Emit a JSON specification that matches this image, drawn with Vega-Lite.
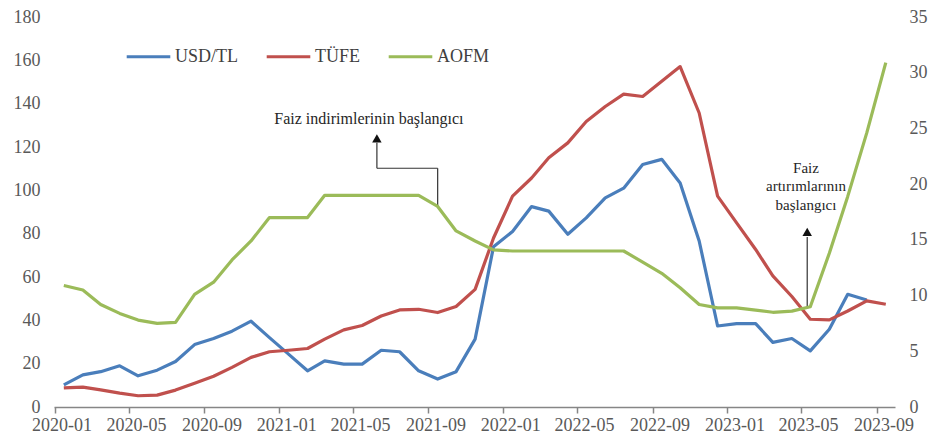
{
  "$schema": "https://vega.github.io/schema/vega-lite/v6.json",
  "width": 841,
  "height": 390,
  "autosize": {"type": "none"},
  "padding": {"left": 54, "top": 17, "right": 50, "bottom": 36},
  "background": "white",
  "config": {
    "view": {"stroke": null},
    "font": "Liberation Serif",
    "axis": {"labelFont": "Liberation Serif", "labelFontSize": 18, "labelColor": "#595959", "grid": false, "title": null}
  },
  "datasets": {
    "series": [
      {"date": "2020-01-01", "series": "USD/TL", "value": 10.2},
      {"date": "2020-02-01", "series": "USD/TL", "value": 14.8},
      {"date": "2020-03-01", "series": "USD/TL", "value": 16.3},
      {"date": "2020-04-01", "series": "USD/TL", "value": 19},
      {"date": "2020-05-01", "series": "USD/TL", "value": 14.4},
      {"date": "2020-06-01", "series": "USD/TL", "value": 17},
      {"date": "2020-07-01", "series": "USD/TL", "value": 21},
      {"date": "2020-08-01", "series": "USD/TL", "value": 28.8},
      {"date": "2020-09-01", "series": "USD/TL", "value": 31.6},
      {"date": "2020-10-01", "series": "USD/TL", "value": 35},
      {"date": "2020-11-01", "series": "USD/TL", "value": 39.6},
      {"date": "2020-12-01", "series": "USD/TL", "value": 32},
      {"date": "2021-01-01", "series": "USD/TL", "value": 24.4},
      {"date": "2021-02-01", "series": "USD/TL", "value": 16.7},
      {"date": "2021-03-01", "series": "USD/TL", "value": 21.3},
      {"date": "2021-04-01", "series": "USD/TL", "value": 19.8},
      {"date": "2021-05-01", "series": "USD/TL", "value": 19.8},
      {"date": "2021-06-01", "series": "USD/TL", "value": 26.2},
      {"date": "2021-07-01", "series": "USD/TL", "value": 25.5},
      {"date": "2021-08-01", "series": "USD/TL", "value": 16.7},
      {"date": "2021-09-01", "series": "USD/TL", "value": 12.9},
      {"date": "2021-10-01", "series": "USD/TL", "value": 16.3},
      {"date": "2021-11-01", "series": "USD/TL", "value": 31.3},
      {"date": "2021-12-01", "series": "USD/TL", "value": 74},
      {"date": "2022-01-01", "series": "USD/TL", "value": 81},
      {"date": "2022-02-01", "series": "USD/TL", "value": 92.5},
      {"date": "2022-03-01", "series": "USD/TL", "value": 90.4},
      {"date": "2022-04-01", "series": "USD/TL", "value": 79.7},
      {"date": "2022-05-01", "series": "USD/TL", "value": 87.3},
      {"date": "2022-06-01", "series": "USD/TL", "value": 96.5},
      {"date": "2022-07-01", "series": "USD/TL", "value": 101},
      {"date": "2022-08-01", "series": "USD/TL", "value": 111.9},
      {"date": "2022-09-01", "series": "USD/TL", "value": 114.3},
      {"date": "2022-10-01", "series": "USD/TL", "value": 103.4},
      {"date": "2022-11-01", "series": "USD/TL", "value": 76.6},
      {"date": "2022-12-01", "series": "USD/TL", "value": 37.4},
      {"date": "2023-01-01", "series": "USD/TL", "value": 38.5},
      {"date": "2023-02-01", "series": "USD/TL", "value": 38.5},
      {"date": "2023-03-01", "series": "USD/TL", "value": 29.8},
      {"date": "2023-04-01", "series": "USD/TL", "value": 31.6},
      {"date": "2023-05-01", "series": "USD/TL", "value": 25.9},
      {"date": "2023-06-01", "series": "USD/TL", "value": 35.9},
      {"date": "2023-07-01", "series": "USD/TL", "value": 52},
      {"date": "2023-08-01", "series": "USD/TL", "value": 49.4},
      {"date": "2020-01-01", "series": "TÜFE", "value": 8.8},
      {"date": "2020-02-01", "series": "TÜFE", "value": 9.2},
      {"date": "2020-03-01", "series": "TÜFE", "value": 7.9},
      {"date": "2020-04-01", "series": "TÜFE", "value": 6.4},
      {"date": "2020-05-01", "series": "TÜFE", "value": 5.2},
      {"date": "2020-06-01", "series": "TÜFE", "value": 5.5},
      {"date": "2020-07-01", "series": "TÜFE", "value": 7.8},
      {"date": "2020-08-01", "series": "TÜFE", "value": 11},
      {"date": "2020-09-01", "series": "TÜFE", "value": 14.2},
      {"date": "2020-10-01", "series": "TÜFE", "value": 18.3},
      {"date": "2020-11-01", "series": "TÜFE", "value": 22.9},
      {"date": "2020-12-01", "series": "TÜFE", "value": 25.5},
      {"date": "2021-01-01", "series": "TÜFE", "value": 26.2},
      {"date": "2021-02-01", "series": "TÜFE", "value": 27},
      {"date": "2021-03-01", "series": "TÜFE", "value": 31.3},
      {"date": "2021-04-01", "series": "TÜFE", "value": 35.6},
      {"date": "2021-05-01", "series": "TÜFE", "value": 37.6},
      {"date": "2021-06-01", "series": "TÜFE", "value": 42},
      {"date": "2021-07-01", "series": "TÜFE", "value": 44.8},
      {"date": "2021-08-01", "series": "TÜFE", "value": 45.1},
      {"date": "2021-09-01", "series": "TÜFE", "value": 43.6},
      {"date": "2021-10-01", "series": "TÜFE", "value": 46.4},
      {"date": "2021-11-01", "series": "TÜFE", "value": 54.3},
      {"date": "2021-12-01", "series": "TÜFE", "value": 78},
      {"date": "2022-01-01", "series": "TÜFE", "value": 97.3},
      {"date": "2022-02-01", "series": "TÜFE", "value": 105.7},
      {"date": "2022-03-01", "series": "TÜFE", "value": 115},
      {"date": "2022-04-01", "series": "TÜFE", "value": 121.9},
      {"date": "2022-05-01", "series": "TÜFE", "value": 131.8},
      {"date": "2022-06-01", "series": "TÜFE", "value": 138.7},
      {"date": "2022-07-01", "series": "TÜFE", "value": 144.4},
      {"date": "2022-08-01", "series": "TÜFE", "value": 143.3},
      {"date": "2022-09-01", "series": "TÜFE", "value": 150.3},
      {"date": "2022-10-01", "series": "TÜFE", "value": 157.1},
      {"date": "2022-11-01", "series": "TÜFE", "value": 135.7},
      {"date": "2022-12-01", "series": "TÜFE", "value": 97.3},
      {"date": "2023-01-01", "series": "TÜFE", "value": 85},
      {"date": "2023-02-01", "series": "TÜFE", "value": 72.7},
      {"date": "2023-03-01", "series": "TÜFE", "value": 60.5},
      {"date": "2023-04-01", "series": "TÜFE", "value": 51},
      {"date": "2023-05-01", "series": "TÜFE", "value": 40.5},
      {"date": "2023-06-01", "series": "TÜFE", "value": 40.2},
      {"date": "2023-07-01", "series": "TÜFE", "value": 44.3},
      {"date": "2023-08-01", "series": "TÜFE", "value": 49},
      {"date": "2023-09-01", "series": "TÜFE", "value": 47.4},
      {"date": "2020-01-01", "series": "AOFM", "value": 10.9},
      {"date": "2020-02-01", "series": "AOFM", "value": 10.5},
      {"date": "2020-03-01", "series": "AOFM", "value": 9.2},
      {"date": "2020-04-01", "series": "AOFM", "value": 8.4},
      {"date": "2020-05-01", "series": "AOFM", "value": 7.8},
      {"date": "2020-06-01", "series": "AOFM", "value": 7.5},
      {"date": "2020-07-01", "series": "AOFM", "value": 7.6},
      {"date": "2020-08-01", "series": "AOFM", "value": 10.1},
      {"date": "2020-09-01", "series": "AOFM", "value": 11.2},
      {"date": "2020-10-01", "series": "AOFM", "value": 13.2},
      {"date": "2020-11-01", "series": "AOFM", "value": 14.9},
      {"date": "2020-12-01", "series": "AOFM", "value": 17},
      {"date": "2021-01-01", "series": "AOFM", "value": 17},
      {"date": "2021-02-01", "series": "AOFM", "value": 17},
      {"date": "2021-03-01", "series": "AOFM", "value": 19},
      {"date": "2021-04-01", "series": "AOFM", "value": 19},
      {"date": "2021-05-01", "series": "AOFM", "value": 19},
      {"date": "2021-06-01", "series": "AOFM", "value": 19},
      {"date": "2021-07-01", "series": "AOFM", "value": 19},
      {"date": "2021-08-01", "series": "AOFM", "value": 19},
      {"date": "2021-09-01", "series": "AOFM", "value": 18},
      {"date": "2021-10-01", "series": "AOFM", "value": 15.8},
      {"date": "2021-11-01", "series": "AOFM", "value": 14.9},
      {"date": "2021-12-01", "series": "AOFM", "value": 14.1},
      {"date": "2022-01-01", "series": "AOFM", "value": 14},
      {"date": "2022-02-01", "series": "AOFM", "value": 14},
      {"date": "2022-03-01", "series": "AOFM", "value": 14},
      {"date": "2022-04-01", "series": "AOFM", "value": 14},
      {"date": "2022-05-01", "series": "AOFM", "value": 14},
      {"date": "2022-06-01", "series": "AOFM", "value": 14},
      {"date": "2022-07-01", "series": "AOFM", "value": 14},
      {"date": "2022-08-01", "series": "AOFM", "value": 13},
      {"date": "2022-09-01", "series": "AOFM", "value": 12},
      {"date": "2022-10-01", "series": "AOFM", "value": 10.7},
      {"date": "2022-11-01", "series": "AOFM", "value": 9.2},
      {"date": "2022-12-01", "series": "AOFM", "value": 8.9},
      {"date": "2023-01-01", "series": "AOFM", "value": 8.9},
      {"date": "2023-02-01", "series": "AOFM", "value": 8.7},
      {"date": "2023-03-01", "series": "AOFM", "value": 8.5},
      {"date": "2023-04-01", "series": "AOFM", "value": 8.6},
      {"date": "2023-05-01", "series": "AOFM", "value": 9},
      {"date": "2023-06-01", "series": "AOFM", "value": 13.8},
      {"date": "2023-07-01", "series": "AOFM", "value": 18.9},
      {"date": "2023-08-01", "series": "AOFM", "value": 24.6},
      {"date": "2023-09-01", "series": "AOFM", "value": 30.9}
    ],
    "arrows": [
      {"date": "2021-09-01", "date2": "2021-09-01", "value": 92.5, "value2": 110.2},
      {"date": "2021-05-25", "date2": "2021-09-01", "value": 110.2, "value2": 110.2},
      {"date": "2021-05-25", "date2": "2021-05-25", "value": 110.2, "value2": 122},
      {"date": "2023-04-26", "date2": "2023-04-26", "value": 46.4, "value2": 78.5}
    ],
    "heads": [
      {"date": "2021-05-25", "value": 124},
      {"date": "2023-04-26", "value": 80.8}
    ],
    "notes": [
      {"date": "2021-05-12", "value": 133, "label": "Faiz indirimlerinin başlangıcı", "size": 16},
      {"date": "2023-04-24", "value": 110.5, "label": "Faiz", "size": 15},
      {"date": "2023-04-24", "value": 101.8, "label": "artırımlarının", "size": 15},
      {"date": "2023-04-24", "value": 93.4, "label": "başlangıcı", "size": 15}
    ]
  },
  "encoding": {
    "x": {
      "field": "date",
      "type": "temporal",
      "scale": {"type": "utc", "domain": [{"year": 2019, "month": 12, "date": 16, "utc": true}, {"year": 2023, "month": 9, "date": 16, "utc": true}]},
      "axis": {
        "values": [
          {"year": 2019, "month": 12, "date": 17, "utc": true},
          {"year": 2020, "month": 4, "date": 16, "utc": true},
          {"year": 2020, "month": 8, "date": 17, "utc": true},
          {"year": 2020, "month": 12, "date": 17, "utc": true},
          {"year": 2021, "month": 4, "date": 16, "utc": true},
          {"year": 2021, "month": 8, "date": 17, "utc": true},
          {"year": 2021, "month": 12, "date": 17, "utc": true},
          {"year": 2022, "month": 4, "date": 16, "utc": true},
          {"year": 2022, "month": 8, "date": 17, "utc": true},
          {"year": 2022, "month": 12, "date": 17, "utc": true},
          {"year": 2023, "month": 4, "date": 16, "utc": true},
          {"year": 2023, "month": 8, "date": 17, "utc": true}
        ],
        "labelExpr": "utcFormat(datum.value + 20 * 86400000, '%Y-%m')",
        "labelOffset": 7,
        "labelPadding": 3,
        "labelFlush": false,
        "labelOverlap": false,
        "domainColor": "#868686",
        "domainWidth": 1.5,
        "tickColor": "#868686",
        "tickSize": 6,
        "tickWidth": 1.5
      }
    }
  },
  "layer": [
    {
      "encoding": {
        "y": {
          "field": "value",
          "type": "quantitative",
          "scale": {"domain": [0, 180], "nice": false},
          "axis": {"orient": "left", "values": [0, 20, 40, 60, 80, 100, 120, 140, 160, 180], "domain": false, "ticks": false, "tickSize": 0, "labelPadding": 14}
        }
      },
      "layer": [
        {
          "data": {"name": "series"},
          "transform": [{"filter": "datum.series !== 'AOFM'"}],
          "mark": {"type": "line", "strokeWidth": 3.2, "strokeJoin": "round"},
          "encoding": {
            "color": {
              "field": "series",
              "type": "nominal",
              "scale": {"domain": ["USD/TL", "TÜFE", "AOFM"], "range": ["#4A7EBB", "#C0504D", "#9BBB59"]},
              "legend": {
                "orient": "none",
                "legendX": 71,
                "legendY": 16,
                "direction": "horizontal",
                "title": null,
                "symbolType": "stroke",
                "symbolSize": 1900,
                "symbolStrokeWidth": 3.2,
                "labelFont": "Liberation Serif",
                "labelFontSize": 18,
                "labelColor": "#404040",
                "labelOffset": 3,
                "columnPadding": 22
              }
            }
          }
        },
        {
          "data": {"name": "arrows"},
          "mark": {"type": "rule", "color": "#333333", "strokeWidth": 1.2},
          "encoding": {
            "x2": {"field": "date2"},
            "y2": {"field": "value2"}
          }
        },
        {
          "data": {"name": "heads"},
          "mark": {"type": "point", "shape": "triangle-up", "filled": true, "color": "#111111", "size": 90, "opacity": 1},
          "encoding": {}
        },
        {
          "data": {"name": "notes"},
          "mark": {"type": "text", "font": "Liberation Serif", "color": "#262626", "align": "center", "baseline": "middle"},
          "encoding": {
            "text": {"field": "label"},
            "size": {"field": "size", "type": "quantitative", "scale": null}
          }
        }
      ]
    },
    {
      "data": {"name": "series"},
      "transform": [{"filter": "datum.series === 'AOFM'"}],
      "mark": {"type": "line", "strokeWidth": 3.2, "strokeJoin": "round"},
      "encoding": {
        "y": {
          "field": "value",
          "type": "quantitative",
          "scale": {"domain": [0, 35], "nice": false},
          "axis": {"orient": "right", "values": [0, 5, 10, 15, 20, 25, 30, 35], "domain": false, "ticks": false, "tickSize": 0, "labelPadding": 14}
        },
        "color": {"field": "series", "type": "nominal"}
      }
    }
  ],
  "resolve": {"scale": {"y": "independent"}}
}
